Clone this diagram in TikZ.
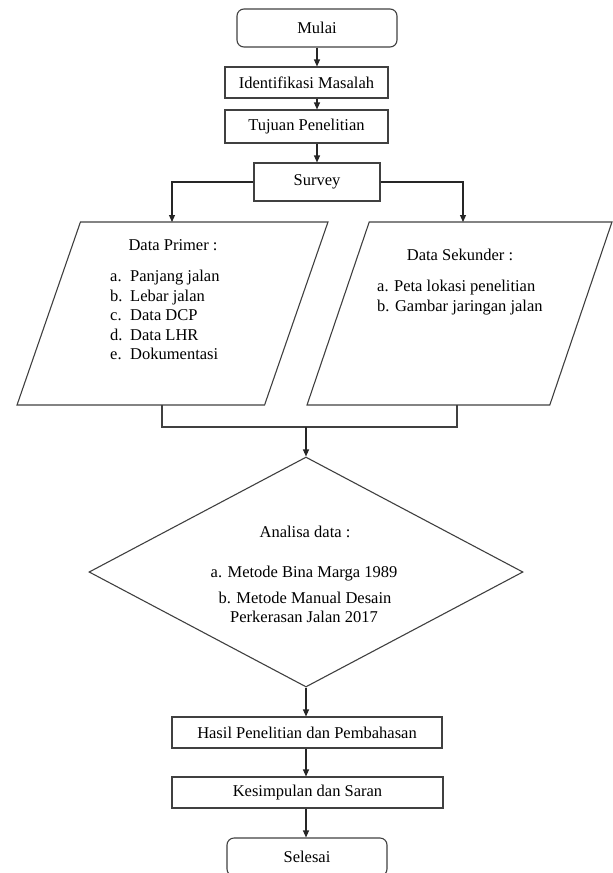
\documentclass[tikz,border=0pt]{standalone}
\usepackage{fontspec}
\setmainfont{Liberation Serif}
\usetikzlibrary{shapes.geometric,arrows.meta}

\begin{document}
\begin{tikzpicture}[x=1pt,y=-1pt,
    every node/.style={font=\fontsize{16.5}{19.5}\selectfont},
    teks/.style={inner sep=0pt},
    proses/.style={draw=black!75,line width=1.1pt,inner sep=0pt,minimum height=31pt},
    terminal/.style={proses,rounded corners=7pt,minimum width=160pt,minimum height=38pt},
    dataio/.style={draw=black!75,line width=1.1pt,trapezium,trapezium left angle=71,
        trapezium right angle=109,trapezium stretches=true,minimum height=183pt,inner sep=2pt},
    keputusan/.style={draw=black!75,line width=1.1pt,diamond,minimum width=434pt,
        minimum height=230pt,inner sep=2pt},
    panah/.style={draw=black!85,line width=1.1pt,-{Triangle[length=7pt,width=6pt]}},
    garis/.style={draw=black!75,line width=1.1pt}]
    \useasboundingbox (0,0) rectangle (613,873);

    \node[terminal] (mulai) at (317,28) {Mulai};
    \node[proses,minimum width=163pt] (identifikasi) at (306.5,82.5) {Identifikasi Masalah};
    \node[proses,minimum width=163pt,minimum height=33pt] (tujuan) at (306.5,126.5) {Tujuan Penelitian};
    \node[proses,minimum width=126pt,minimum height=38pt] (survey) at (317,182) {Survey};

    \node[dataio,minimum width=311pt] (primer) at (172.5,313.5) {};
    \node[dataio,minimum width=305pt] (sekunder) at (459.5,313.5) {};
    \node[teks,anchor=base] (primerjudul) at (173,250) {Data Primer :};
    \foreach \huruf/\isi [count=\i] in {a/Panjang jalan,b/Lebar jalan,c/Data DCP,d/Data LHR,e/Dokumentasi}{
        \node[teks,anchor=base west] (primerhuruf\i) at (110,262+19.5*\i) {\huruf.};
        \node[teks,anchor=base west] (primerisi\i) at (130,262+19.5*\i) {\isi};
    }
    \node[teks,anchor=base] (sekunderjudul) at (460,260) {Data Sekunder :};
    \node[teks,anchor=base west] (sekunderisi1) at (377,291) {a. Peta lokasi penelitian};
    \node[teks,anchor=base west] (sekunderisi2) at (377,311) {b. Gambar jaringan jalan};

    \node[keputusan] (analisa) at (306,572) {};
    \node[teks,anchor=base] (analisajudul) at (305,537) {Analisa data :};
    \node[teks,anchor=base] (analisa1) at (304,577) {a. Metode Bina Marga 1989};
    \node[teks,anchor=base] (analisa2) at (305,603) {b. Metode Manual Desain};
    \node[teks,anchor=base] (analisa3) at (304,622) {Perkerasan Jalan 2017};

    \node[proses,minimum width=270pt] (hasil) at (307,732.5) {Hasil Penelitian dan Pembahasan};
    \node[proses,minimum width=271pt] (kesimpulan) at (307.5,792.5) {Kesimpulan dan Saran};
    \node[terminal] (selesai) at (307,857) {Selesai};

    \coordinate (masukprimer) at (172,222);
    \coordinate (masuksekunder) at (463,222);
    \coordinate (keluarprimer) at (162,405);
    \coordinate (keluarsekunder) at (457,405);
    \coordinate (gabung) at (306,427);

    \draw[panah] (mulai.south) -- (mulai.south |- identifikasi.north);
    \draw[panah] (identifikasi.south -| mulai) -- (tujuan.north -| mulai);
    \draw[panah] (tujuan.south -| mulai) -- (survey.north);
    \draw[panah] (survey.west) -| (masukprimer);
    \draw[panah] (survey.east) -| (masuksekunder);
    \draw[garis] (keluarprimer) |- (gabung) -| (keluarsekunder);
    \draw[panah] (gabung) -- (analisa.north);
    \draw[panah] (analisa.south) -- (analisa.south |- hasil.north);
    \draw[panah] (hasil.south -| analisa) -- (kesimpulan.north -| analisa);
    \draw[panah] (kesimpulan.south -| analisa) -- (selesai.north -| analisa);
\end{tikzpicture}
\end{document}
